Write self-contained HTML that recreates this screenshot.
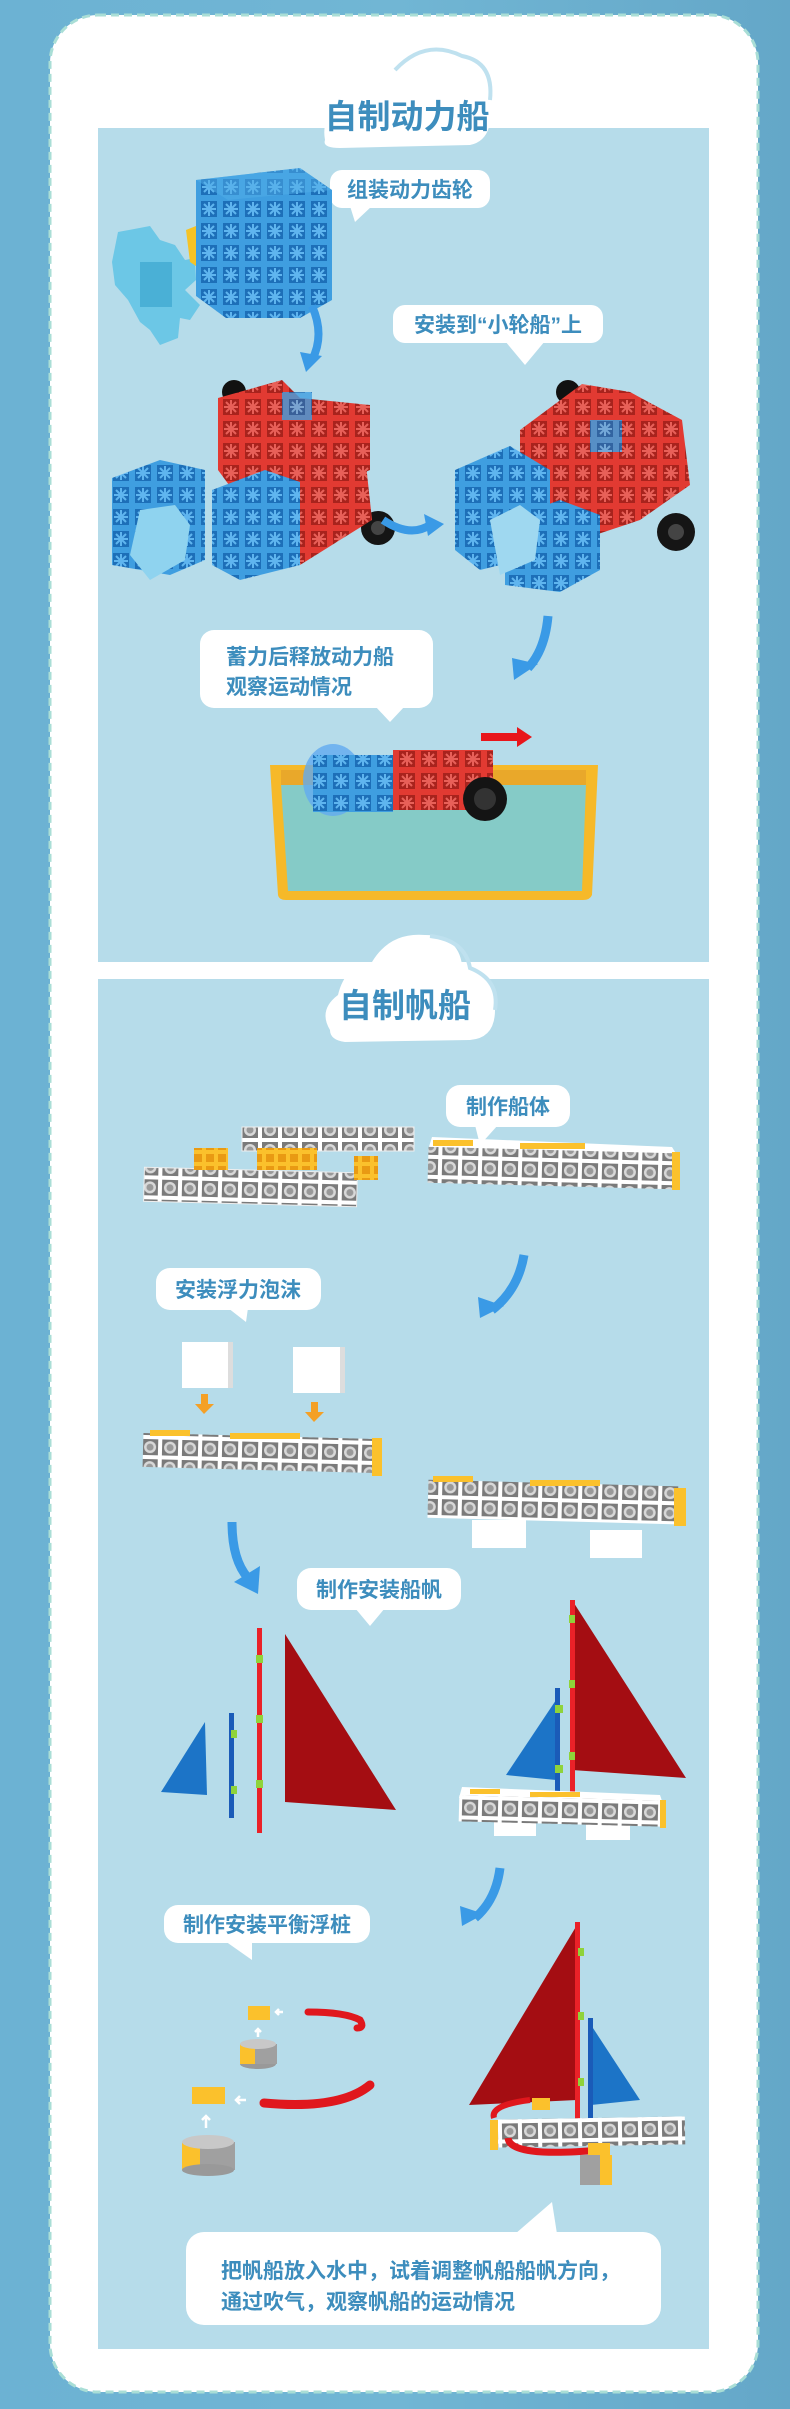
<!DOCTYPE html>
<html><head><meta charset="utf-8"><style>
html,body{margin:0;padding:0}
body{width:790px;height:2409px;background:linear-gradient(90deg,#6cb2d3,#71b6d4 50%,#64a7c8);position:relative;overflow:hidden;font-family:"Liberation Sans","Noto Sans CJK SC",sans-serif}
svg{position:absolute;left:0;top:0}
.t{font-family:"Liberation Sans","Noto Sans CJK SC",sans-serif;font-weight:bold;fill:#3d8dbd}
</style></head><body>
<svg width="790" height="2409" viewBox="0 0 790 2409" xmlns="http://www.w3.org/2000/svg">
<defs>
<pattern id="holes" x="0" y="0" width="20" height="20" patternUnits="userSpaceOnUse">
<rect width="20" height="20" fill="#fff"/><rect x="2" y="2" width="16" height="16" fill="#7a7a7a"/><circle cx="10" cy="10" r="6" fill="#d8d8d8"/><circle cx="10" cy="10" r="3.5" fill="#999"/></pattern>
<pattern id="bcube" width="22" height="22" patternUnits="userSpaceOnUse"><rect width="22" height="22" fill="#3f9ee0"/><rect x="3" y="3" width="16" height="16" fill="#1d6fb8"/><path d="M11 4v14M4 11h14M6 6l10 10M16 6L6 16" stroke="#5fb5ef" stroke-width="2"/></pattern>
<pattern id="rcube" width="22" height="22" patternUnits="userSpaceOnUse"><rect width="22" height="22" fill="#e23a32"/><rect x="3" y="3" width="16" height="16" fill="#a8231d"/><path d="M11 4v14M4 11h14M6 6l10 10M16 6L6 16" stroke="#e86058" stroke-width="2"/></pattern>
<pattern id="ycube" width="12" height="12" patternUnits="userSpaceOnUse"><rect width="12" height="12" fill="#fbc12c"/><rect x="2" y="2" width="8" height="8" fill="#e99a13"/></pattern>
</defs>

<rect x="50" y="15" width="708" height="2377" rx="48" fill="#fff" stroke="#a9ded6" stroke-width="3" stroke-dasharray="8 5"/>

<rect x="98" y="128" width="611" height="834" fill="#b6dcea"/>
<path d="M325 140 Q320 112 350 105 Q360 70 400 70 Q425 42 460 60 Q500 60 490 100 Q495 140 470 145 L340 148 Q322 148 325 140Z" fill="#fff"/>
<path d="M395 70 Q425 38 462 56 Q494 62 490 100" fill="none" stroke="#bfe1ef" stroke-width="4"/>
<text x="407" y="128" text-anchor="middle" class="t" font-size="33" fill="#2f8fc6">自制动力船</text>

<rect x="330" y="170" width="160" height="38" rx="12" fill="#fff"/><path d="M350 206 L355 222 L372 206Z" fill="#fff"/>
<text x="410" y="197" text-anchor="middle" class="t" font-size="21">组装动力齿轮</text>
<path d="M118 232 L150 226 L160 240 L175 245 L185 260 L195 258 L196 280 L185 290 L200 305 L190 320 L180 318 L178 338 L160 345 L150 330 L140 322 L128 300 L115 285 L112 262 Z" fill="#6cc7e6"/>
<rect x="140" y="262" width="32" height="45" fill="#4ab0d6"/>
<path d="M186 230 L206 222 L222 228 L222 265 L205 272 L190 262 Z" fill="#f5c326"/>
<polygon points="196,180 300,168 332,190 332,300 300,318 226,318 196,296" fill="url(#bcube)"/>
<polygon points="196,180 300,168 332,190 228,200" fill="#52aee8" opacity=".5"/>
<path d="M312 306 Q325 335 312 360" fill="none" stroke="#3a9ae6" stroke-width="8"/>
<polygon points="300,352 322,356 306,372" fill="#3a9ae6"/>

<rect x="393" y="305" width="210" height="38" rx="12" fill="#fff"/><path d="M505 341 L525 365 L545 341Z" fill="#fff"/>
<text x="498" y="332" text-anchor="middle" class="t" font-size="21">安装到“小轮船”上</text>

<circle cx="234" cy="392" r="12" fill="#111"/>
<polygon points="218,398 282,380 300,398 370,405 370,470 300,500 240,500 218,470" fill="url(#rcube)"/>
<rect x="282" y="392" width="30" height="28" fill="url(#bcube)" opacity=".8"/>
<circle cx="378" cy="528" r="17" fill="#151515"/><circle cx="378" cy="528" r="7" fill="#444"/>
<polygon points="300,470 365,455 372,520 300,565" fill="url(#rcube)"/>
<polygon points="212,490 265,470 300,482 300,565 240,580 212,565" fill="url(#bcube)"/>
<polygon points="112,478 160,460 205,470 205,560 170,575 112,565" fill="url(#bcube)"/>
<path d="M140 510 L175 505 L190 525 L185 560 L150 580 L130 555 Z" fill="#8fd3ef"/>
<path d="M383 520 Q410 538 430 525" fill="none" stroke="#3a9ae6" stroke-width="8"/>
<polygon points="424,514 444,524 428,536" fill="#3a9ae6"/>
<circle cx="568" cy="392" r="12" fill="#111"/>
<polygon points="520,430 582,384 630,392 682,420 690,485 640,520 580,540 520,500" fill="url(#rcube)"/>
<rect x="590" y="420" width="32" height="32" fill="url(#bcube)" opacity=".85"/>
<circle cx="676" cy="532" r="19" fill="#151515"/><circle cx="676" cy="532" r="8" fill="#444"/>
<polygon points="455,470 510,446 550,470 550,520 520,560 480,570 455,550" fill="url(#bcube)"/>
<polygon points="505,520 560,500 600,515 600,570 560,592 505,585" fill="url(#bcube)"/>
<path d="M490 520 L520 505 L540 520 L535 560 L500 575 Z" fill="#9fd8f0"/>
<path d="M548 616 Q545 650 528 668" fill="none" stroke="#3a9ae6" stroke-width="9"/>
<polygon points="512,658 538,664 514,680" fill="#3a9ae6"/>

<rect x="200" y="630" width="233" height="78" rx="14" fill="#fff"/><path d="M375 706 L390 722 L405 706Z" fill="#fff"/>
<text x="226" y="664" class="t" font-size="21">蓄力后释放动力船</text>
<text x="226" y="694" class="t" font-size="21">观察运动情况</text>

<path d="M270 765 L598 765 L592 895 Q590 900 583 900 L286 900 Q279 900 278 895 Z" fill="#f6b929"/>
<path d="M281 784 L586 784 L582 891 L288 891 Z" fill="#85cbc7"/>
<rect x="281" y="770" width="305" height="15" fill="#e9a82a"/>
<ellipse cx="333" cy="780" rx="30" ry="36" fill="#62aaf0" opacity=".8"/>
<rect x="313" y="755" width="80" height="57" fill="url(#bcube)"/>
<rect x="393" y="750" width="100" height="60" fill="url(#rcube)"/>
<circle cx="485" cy="799" r="22" fill="#141414"/><circle cx="485" cy="799" r="11" fill="#333"/>
<rect x="481" y="733" width="38" height="8" fill="#e8161b"/><polygon points="517,727 532,737 517,747" fill="#e8161b"/>

<rect x="98" y="979" width="611" height="1370" fill="#b6dcea"/>
<path d="M330 1030 Q318 1010 338 995 Q345 965 372 962 Q390 932 425 935 Q458 935 462 965 Q497 970 495 1010 Q495 1038 470 1040 L345 1042 Q330 1040 330 1030Z" fill="#fff"/>
<path d="M430 936 Q465 940 470 968 Q500 980 495 1010" fill="none" stroke="#bfe1ef" stroke-width="4"/>
<text x="405" y="1017" text-anchor="middle" class="t" font-size="33" fill="#2f8fc6">自制帆船</text>

<rect x="446" y="1085" width="124" height="42" rx="14" fill="#fff"/><path d="M475 1125 L480 1145 L498 1125Z" fill="#fff"/>
<text x="508" y="1114" text-anchor="middle" class="t" font-size="21">制作船体</text>
<rect x="242" y="1127" width="172" height="24" fill="url(#holes)" stroke="#eee"/>
<rect x="144" y="1170" width="213" height="34" fill="url(#holes)" stroke="#eee" transform="rotate(1.5 250 1187)"/>
<rect x="194" y="1148" width="34" height="22" fill="url(#ycube)"/>
<rect x="257" y="1148" width="60" height="22" fill="url(#ycube)"/>
<rect x="354" y="1156" width="24" height="24" fill="url(#ycube)"/>
<polygon points="432,1137 672,1147 680,1160 428,1150" fill="#fff"/>
<rect x="433" y="1140" width="40" height="6" fill="#fbc12c"/><rect x="520" y="1143" width="65" height="6" fill="#fbc12c"/>
<rect x="428" y="1150" width="250" height="36" fill="url(#holes)" transform="rotate(1.5 550 1168)"/>
<rect x="672" y="1152" width="8" height="38" fill="#fbc12c"/>
<path d="M524 1255 Q518 1290 492 1310" fill="none" stroke="#3a9ae6" stroke-width="9"/>
<polygon points="478,1297 504,1306 480,1318" fill="#3a9ae6"/>

<rect x="156" y="1268" width="165" height="42" rx="14" fill="#fff"/><path d="M228 1308 L246 1322 L248 1308Z" fill="#fff"/>
<text x="238" y="1297" text-anchor="middle" class="t" font-size="21">安装浮力泡沫</text>
<rect x="182" y="1342" width="50" height="46" fill="#fff"/><rect x="228" y="1342" width="5" height="46" fill="#ddd"/>
<rect x="293" y="1347" width="50" height="46" fill="#fff"/><rect x="340" y="1347" width="5" height="46" fill="#ddd"/>
<rect x="201" y="1394" width="7" height="11" fill="#f4a026"/><polygon points="195,1404 214,1404 204,1414" fill="#f4a026"/>
<rect x="311" y="1402" width="7" height="11" fill="#f4a026"/><polygon points="305,1412 324,1412 314,1422" fill="#f4a026"/>
<rect x="143" y="1436" width="232" height="34" fill="url(#holes)" transform="rotate(1.5 260 1452)"/>
<rect x="150" y="1430" width="40" height="6" fill="#fbc12c"/><rect x="230" y="1433" width="70" height="6" fill="#fbc12c"/>
<rect x="372" y="1438" width="10" height="38" fill="#fbc12c"/>
<rect x="472" y="1520" width="54" height="28" fill="#fff"/><rect x="590" y="1530" width="52" height="28" fill="#fff"/>
<rect x="428" y="1483" width="250" height="38" fill="url(#holes)" transform="rotate(1.5 550 1500)"/>
<rect x="433" y="1476" width="40" height="6" fill="#fbc12c"/><rect x="530" y="1480" width="70" height="6" fill="#fbc12c"/>
<rect x="674" y="1488" width="12" height="38" fill="#fbc12c"/>
<!-- arrow -->
<path d="M232 1522 Q232 1560 248 1578" fill="none" stroke="#3a9ae6" stroke-width="9"/>
<polygon points="234,1582 260,1566 258,1594" fill="#3a9ae6"/>

<!-- bubble 制作安装船帆 -->
<rect x="297" y="1568" width="164" height="42" rx="14" fill="#fff"/><path d="M355 1608 L370 1626 L385 1608Z" fill="#fff"/>
<text x="379" y="1597" text-anchor="middle" class="t" font-size="21">制作安装船帆</text>
<polygon points="161,1792 205,1722 207,1795" fill="#1c74c7"/>
<rect x="229" y="1713" width="5" height="105" fill="#1a5bb8"/>
<rect x="257" y="1628" width="5" height="205" fill="#ea2128"/>
<polygon points="285,1634 285,1802 396,1810" fill="#a40d12"/>
<rect x="231" y="1730" width="6" height="8" fill="#8fd33a"/><rect x="231" y="1786" width="6" height="8" fill="#8fd33a"/>
<rect x="256" y="1655" width="7" height="8" fill="#8fd33a"/><rect x="256" y="1715" width="7" height="8" fill="#8fd33a"/><rect x="256" y="1780" width="7" height="8" fill="#8fd33a"/>
<polygon points="556,1700 506,1775 556,1780" fill="#1c74c7"/>
<rect x="555" y="1688" width="5" height="108" fill="#1a5bb8"/>
<polygon points="572,1600 686,1778 572,1770" fill="#a40d12"/>
<rect x="570" y="1600" width="5" height="198" fill="#ea2128"/>
<rect x="569" y="1615" width="6" height="8" fill="#8fd33a"/><rect x="569" y="1680" width="6" height="8" fill="#8fd33a"/><rect x="569" y="1752" width="6" height="8" fill="#8fd33a"/><rect x="555" y="1705" width="8" height="8" fill="#8fd33a"/><rect x="555" y="1765" width="8" height="8" fill="#8fd33a"/>
<rect x="494" y="1820" width="42" height="16" fill="#fff"/><rect x="586" y="1824" width="44" height="16" fill="#fff"/>
<polygon points="462,1787 660,1795 664,1807 459,1798" fill="#fff"/>
<rect x="470" y="1789" width="30" height="5" fill="#fbc12c"/><rect x="530" y="1792" width="50" height="5" fill="#fbc12c"/>
<rect x="459" y="1798" width="203" height="26" fill="url(#holes)" transform="rotate(1.5 560 1810)"/>
<rect x="660" y="1800" width="6" height="28" fill="#fbc12c"/>
<path d="M500 1868 Q496 1900 475 1918" fill="none" stroke="#3a9ae6" stroke-width="9"/>
<polygon points="460,1906 484,1914 462,1926" fill="#3a9ae6"/>

<rect x="164" y="1905" width="206" height="38" rx="14" fill="#fff"/><path d="M225 1941 L252 1960 L252 1941Z" fill="#fff"/>
<text x="267" y="1932" text-anchor="middle" class="t" font-size="21">制作安装平衡浮桩</text>
<rect x="248" y="2006" width="22" height="14" fill="#fbc12c"/>
<path d="M283 2012 l-6 0 M279 2009 l-3 3 3 3" stroke="#fff" stroke-width="2.5" fill="none"/>
<path d="M308 2012 Q345 2012 360 2020 Q365 2028 357 2028" fill="none" stroke="#e0171d" stroke-width="7" stroke-linecap="round"/>
<path d="M258 2037 v-8 M255 2032 l3-3 3 3" stroke="#fff" stroke-width="2.5" fill="none"/>
<ellipse cx="258" cy="2064" rx="18" ry="5" fill="#999"/><rect x="240" y="2044" width="37" height="20" fill="#a0a0a0"/><rect x="240" y="2044" width="15" height="20" fill="#fbc12c"/><ellipse cx="258" cy="2044" rx="18" ry="5" fill="#c8c8c8"/>
<rect x="192" y="2087" width="33" height="17" fill="#fbc12c"/>
<path d="M246 2100 l-10 0 M240 2096 l-4 4 4 4" stroke="#fff" stroke-width="2.5" fill="none"/>
<path d="M264 2103 Q340 2110 370 2085" fill="none" stroke="#e0171d" stroke-width="9" stroke-linecap="round"/>
<path d="M206 2128 v-12 M202 2120 l4-4 4 4" stroke="#fff" stroke-width="2.5" fill="none"/>
<rect x="182" y="2142" width="53" height="28" fill="#a0a0a0"/><rect x="182" y="2142" width="18" height="28" fill="#fbc12c"/><ellipse cx="208" cy="2170" rx="26" ry="6" fill="#999"/><ellipse cx="208" cy="2142" rx="26" ry="7" fill="#c8c8c8"/>
<polygon points="577,1925 469,2105 577,2100" fill="#a40d12"/>
<polygon points="591,2025 640,2100 591,2105" fill="#1c74c7"/>
<rect x="588" y="2018" width="5" height="110" fill="#1a5bb8"/>
<rect x="575" y="1922" width="5" height="200" fill="#ea2128"/>
<rect x="578" y="1948" width="6" height="8" fill="#8fd33a"/><rect x="578" y="2012" width="6" height="8" fill="#8fd33a"/><rect x="578" y="2078" width="6" height="8" fill="#8fd33a"/>
<rect x="525" y="2120" width="30" height="25" fill="#fff"/>
<rect x="495" y="2118" width="190" height="28" fill="url(#holes)" transform="rotate(-1 590 2130)"/>
<rect x="490" y="2120" width="8" height="30" fill="#fbc12c"/>
<path d="M494 2118 Q490 2105 530 2100" fill="none" stroke="#e0171d" stroke-width="6"/>
<rect x="532" y="2098" width="18" height="12" fill="#fbc12c"/>
<path d="M508 2138 Q510 2158 600 2150" fill="none" stroke="#e0171d" stroke-width="7"/>
<rect x="580" y="2155" width="30" height="30" fill="#a0a0a0"/><rect x="600" y="2155" width="12" height="30" fill="#fbc12c"/>
<rect x="588" y="2143" width="22" height="12" fill="#fbc12c"/>

<rect x="186" y="2232" width="475" height="93" rx="18" fill="#fff"/><path d="M515 2234 L552 2202 L557 2234Z" fill="#fff"/>
<text x="221" y="2278" class="t" font-size="21">把帆船放入水中，试着调整帆船船帆方向，</text>
<text x="221" y="2309" class="t" font-size="21">通过吹气，观察帆船的运动情况</text>
</svg>
</body></html>
